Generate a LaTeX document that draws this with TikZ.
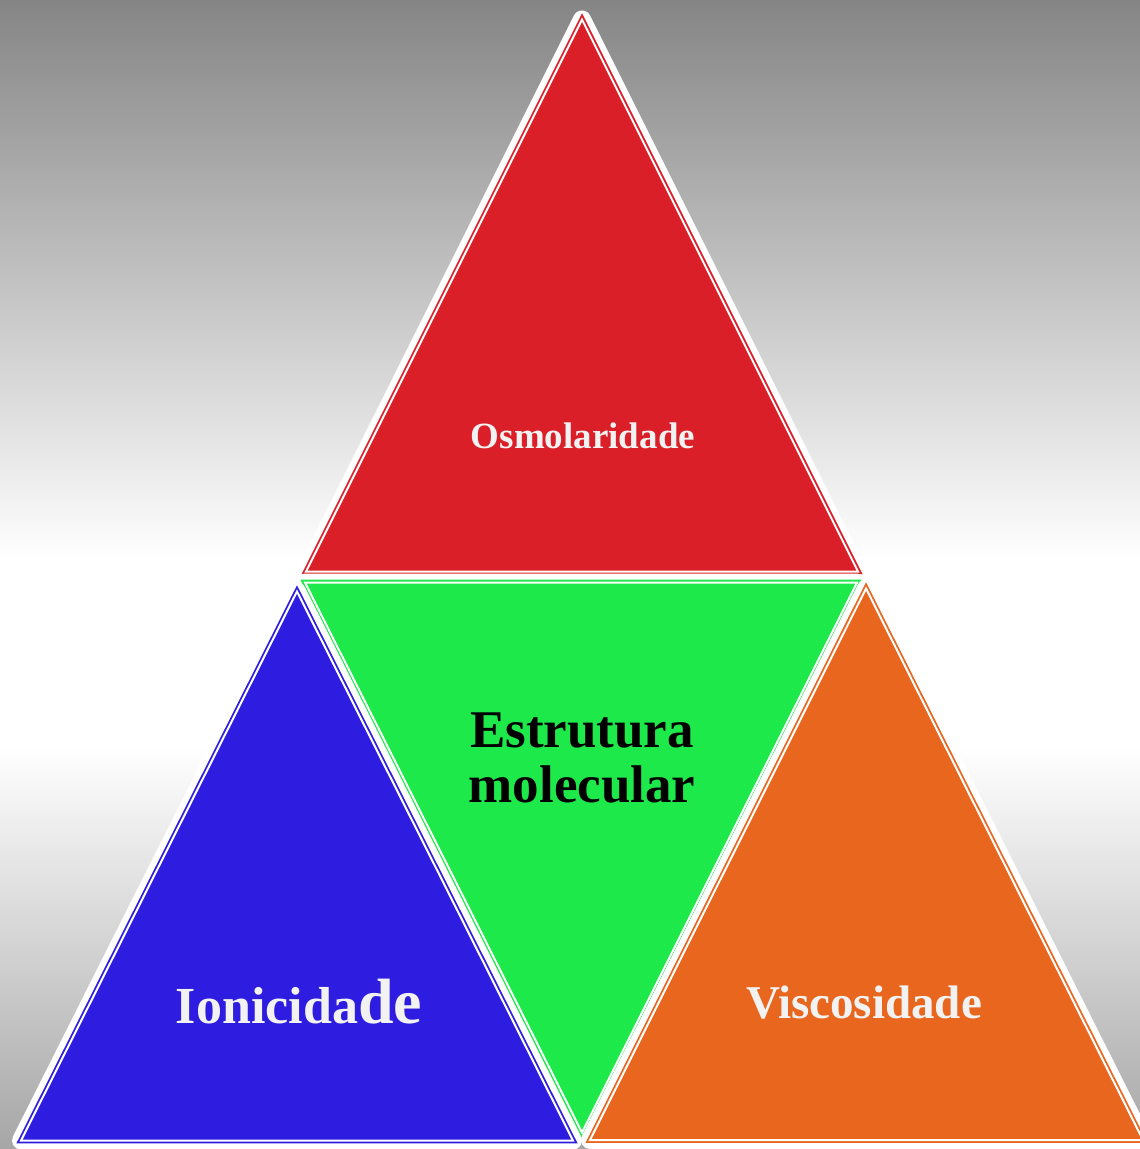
\documentclass[tikz,border=0pt]{standalone}
\usepackage{fontspec}
\setmainfont{Liberation Serif}
\definecolor{bgtop}{HTML}{858585}
\definecolor{bgbot}{HTML}{A6A6A6}
\definecolor{cred}{HTML}{DA1F28}
\definecolor{cgreen}{HTML}{1DEA4A}
\definecolor{cblue}{HTML}{2E1DE0}
\definecolor{corange}{HTML}{E8661E}
\definecolor{txtlight}{HTML}{F2F2F2}
\pgfdeclareverticalshading{bgshade}{100bp}{color(0bp)=(bgbot); color(25bp)=(bgbot); color(42.5bp)=(white); color(50.6bp)=(white); color(75bp)=(bgtop); color(100bp)=(bgtop)}
\tikzset{
  halo/.style={draw=white, line width=18pt, line join=round},
  tri/.style={fill=#1, draw=#1, double=white, double distance=2pt, line width=1.8pt, line join=miter},
  lbl/.style={anchor=base, inner sep=0pt, font=\bfseries}
}
\begin{document}
\begin{tikzpicture}[x=1pt, y=-1pt]
\useasboundingbox (0,0) rectangle (1140,1149);
\shade[shading=bgshade] (0,0) rectangle (1140,1149);
% red (top)
\draw[halo] (582,19.5) -- (306,571.5) -- (858,571.5) -- cycle;
\draw[tri=cred] (582,19.5) -- (306,571.5) -- (858,571.5) -- cycle;
% green (inverted)
\draw[halo] (305,582.5) -- (857,582.5) -- (582,1132.5) -- cycle;
\draw[tri=cgreen] (305,582.5) -- (857,582.5) -- (582,1132.5) -- cycle;
% blue
\draw[halo] (297,591.5) -- (21,1140.5) -- (573,1140.5) -- cycle;
\draw[tri=cblue] (297,591.5) -- (21,1140.5) -- (573,1140.5) -- cycle;
% orange
\draw[halo] (866,588.5) -- (590,1140) -- (1143,1140) -- cycle;
\draw[tri=corange] (866,588.5) -- (590,1140) -- (1143,1140) -- cycle;
% labels
\node[lbl, text=txtlight] (osm) at (583,448) {\fontsize{37pt}{40pt}\selectfont Osmolaridade};
\node[lbl, text=black] (estr) at (582,747) {\fontsize{53pt}{55pt}\selectfont Estrutura};
\node[lbl, text=black] (mol) at (582,802) {\fontsize{53pt}{55pt}\selectfont molecular};
\node[lbl, text=txtlight] (ion) at (299,1023) {\fontsize{52pt}{52pt}\selectfont Ionicida{\fontsize{64pt}{66pt}\selectfont de}};
\node[lbl, text=txtlight] (visc) at (864,1018) {\fontsize{47pt}{50pt}\selectfont Viscosidade};
\end{tikzpicture}
\end{document}
